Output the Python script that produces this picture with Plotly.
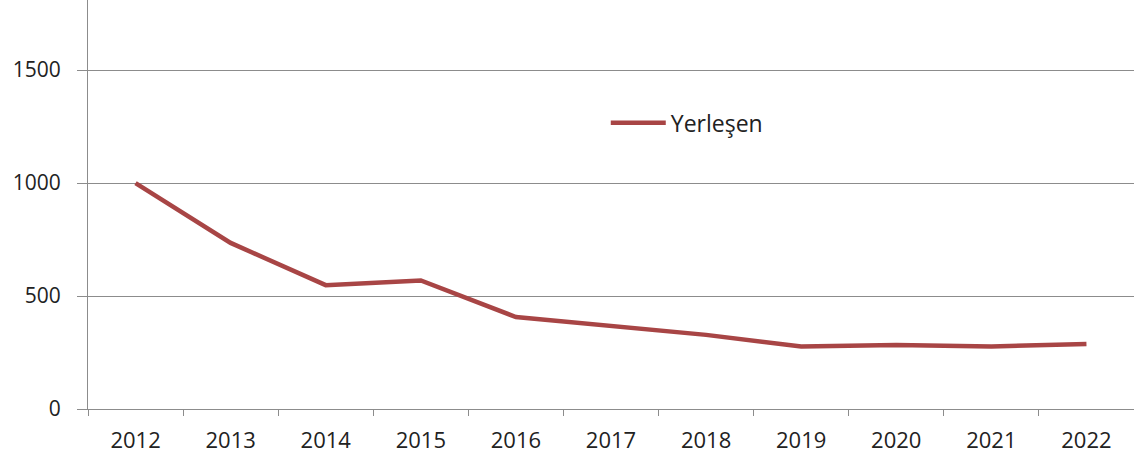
import plotly.graph_objects as go

years = ["2012", "2013", "2014", "2015", "2016", "2017", "2018", "2019", "2020", "2021", "2022"]
yerlesen = [1000, 735, 548, 569, 407, 368, 328, 277, 283, 277, 288]
y_ticks = [0, 500, 1000, 1500]

FONT = "Open Sans"
GRID = "#8c8c8c"

fig = go.Figure()
fig.add_trace(go.Scatter(
    x=years, y=yerlesen,
    mode="lines",
    name="Yerleşen",
    line=dict(color="#a84545", width=4.5),
))

fig.update_layout(
    width=1134, height=464,
    margin=dict(l=88, r=0, t=0, b=55),
    plot_bgcolor="white",
    paper_bgcolor="white",
    font=dict(family=FONT, size=20, color="#222222"),
    showlegend=True,
    legend=dict(
        x=0.495, y=0.70, xanchor="left", yanchor="middle",
        bgcolor="rgba(0,0,0,0)",
        font=dict(family=FONT, size=23, color="#222222"),
        itemwidth=55,
    ),
)
fig.update_xaxes(
    type="category",
    range=[-0.5, 10.5],
    tickson="boundaries",
    ticks="outside", ticklen=6, tickcolor=GRID,
    ticklabelstandoff=12,
    showline=True, linecolor=GRID, linewidth=1,
    showgrid=False,
    tickfont=dict(family=FONT, size=22, color="#222222"),
)
fig.update_yaxes(
    range=[0, 1810],
    tickvals=y_ticks,
    ticks="outside", ticklen=10, tickcolor=GRID,
    ticklabelstandoff=12,
    showline=True, linecolor=GRID, linewidth=1,
    showgrid=True, gridcolor=GRID, gridwidth=1,
    zeroline=False,
    tickfont=dict(family=FONT, size=21, color="#222222"),
)

# drop the default page margin so the figure sits at the window corner
fig.write_html("out.html", config={"displayModeBar": False},
               post_script="document.body.style.margin='0';")
